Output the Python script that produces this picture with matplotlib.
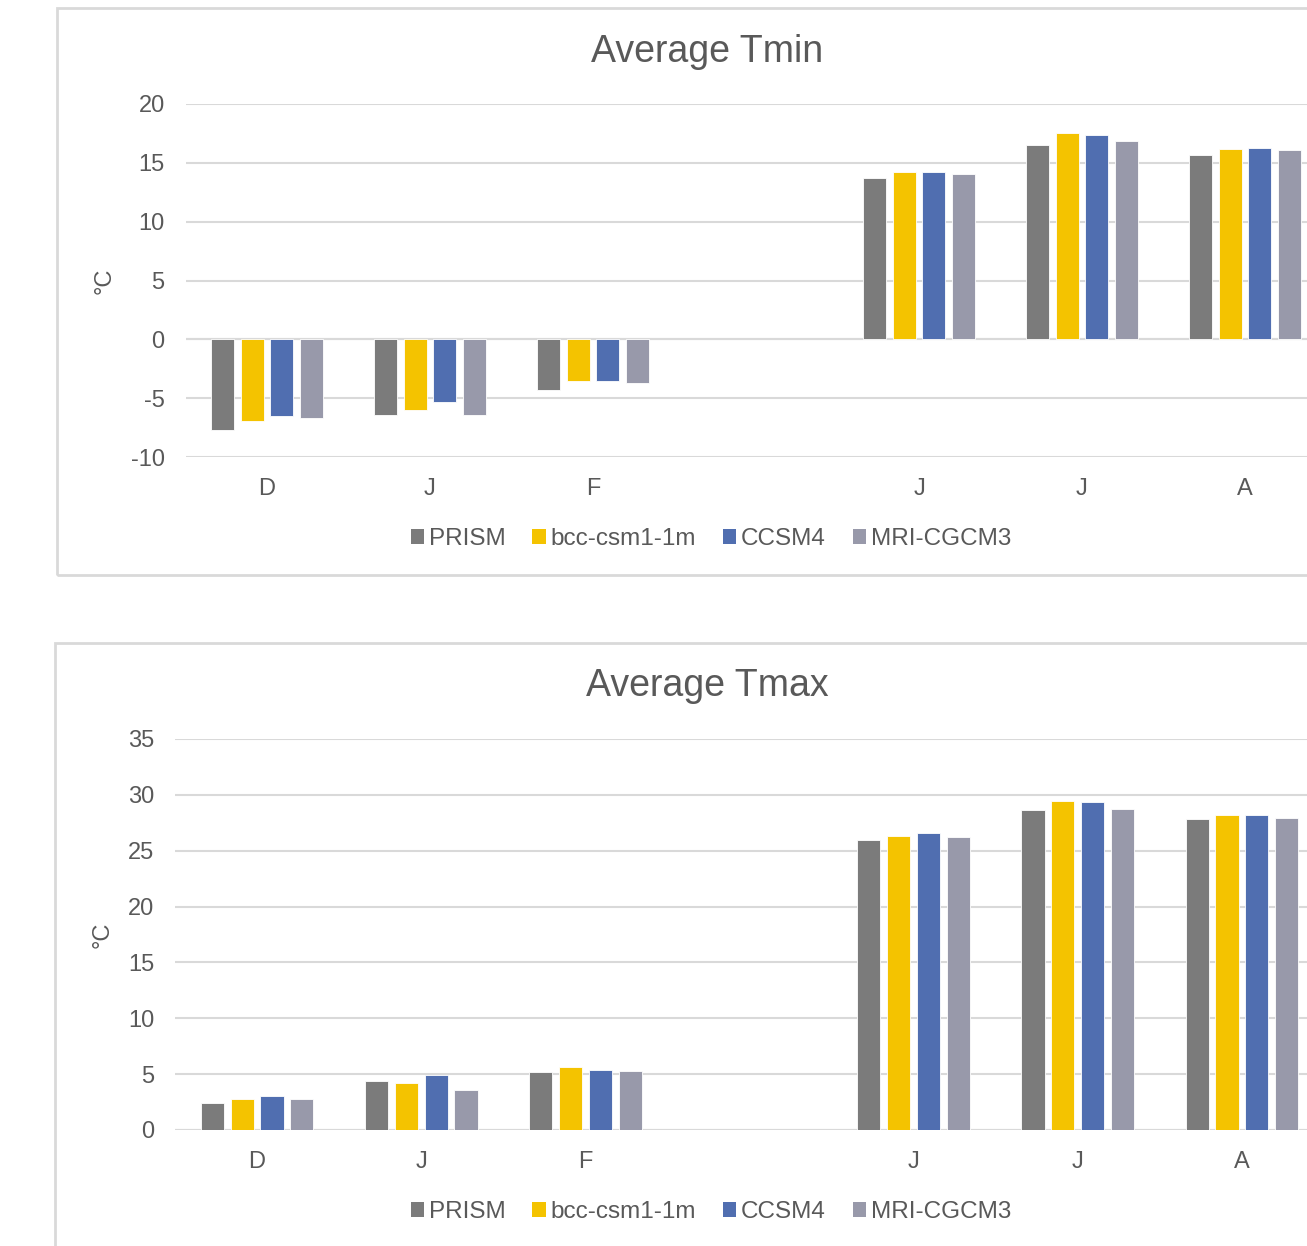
import matplotlib
matplotlib.use("Agg")
import matplotlib.pyplot as plt
from matplotlib.patches import Rectangle, Patch
import numpy as np

plt.rcParams['font.family'] = ['Liberation Sans', 'DejaVu Sans']
plt.rcParams['axes.unicode_minus'] = False

categories = ["D", "J", "F", "", "J", "J", "A"]
series = ["PRISM", "bcc-csm1-1m", "CCSM4", "MRI-CGCM3"]
colors = ["#7B7B7B", "#F4C300", "#506EB0", "#9899AA"]

# None = blank category
tmin_prism = [-7.67, -6.4, -4.3, None, 13.7, 16.5, 15.7]
tmin_bcc   = [-6.9, -6.0, -3.5, None, 14.2, 17.5, 16.2]
tmin_ccsm4 = [-6.5, -5.35, -3.5, None, 14.24, 17.37, 16.27]
tmin_mri   = [-6.7, -6.45, -3.67, None, 14.07, 16.83, 16.07]

tmax_prism = [2.38, 4.38, 5.22, None, 25.99, 28.66, 27.82]
tmax_bcc   = [2.76, 4.2, 5.6, None, 26.32, 29.46, 28.2]
tmax_ccsm4 = [3.07, 4.95, 5.34, None, 26.56, 29.35, 28.2]
tmax_mri   = [2.8, 3.57, 5.31, None, 26.23, 28.76, 27.91]

W, H = 1307, 1246
fig = plt.figure(figsize=(W / 100, H / 100), dpi=100)
TXT = "#595959"
GRID = "#D9D9D9"

def fx(px):
    return px / W

def fy(py):
    return 1 - py / H

# chart borders
fig.patches.append(Rectangle((fx(57), fy(575)), fx(1400 - 57), fy(8) - fy(575),
                             transform=fig.transFigure, fill=False, edgecolor=GRID, lw=2))
fig.patches.append(Rectangle((fx(55), fy(1300)), fx(1400 - 55), fy(643) - fy(1300),
                             transform=fig.transFigure, fill=False, edgecolor=GRID, lw=2))


def draw(ax, data, ylim, yticks, title, title_y, leg_y, ylab_x):
    n = len(categories)
    x = np.arange(n)
    step = 0.182
    bw = 0.141
    for i, (name, vals, c) in enumerate(zip(series, data, colors)):
        xs = [xi + (i - 1.5) * step for xi, v in zip(x, vals) if v is not None]
        vs = [v for v in vals if v is not None]
        ax.bar(xs, vs, width=bw, color=c, edgecolor="white", linewidth=0.6, zorder=3, label=name)
    ax.set_xlim(-0.5, n - 0.5)
    ax.set_ylim(*ylim)
    ax.set_yticks(yticks)
    ax.grid(axis="y", color=GRID, lw=1.5, zorder=0)
    ax.axhline(0, color=GRID, lw=1.5, zorder=1)
    for s in ax.spines.values():
        s.set_visible(False)
    ticks = [i for i, c in enumerate(categories) if c]
    ax.set_xticks(ticks)
    ax.set_xticklabels([categories[i] for i in ticks])
    ax.tick_params(axis="x", length=0, pad=15, labelsize=17, labelcolor=TXT)
    ax.tick_params(axis="y", length=0, pad=15, labelsize=17, labelcolor=TXT)
    axpos = ax.get_position()
    fig.text(fx(707), fy(title_y), title, ha="center", va="center", fontsize=27, color=TXT)
    fig.text(fx(ylab_x), (axpos.y0 + axpos.y1) / 2, "°C", rotation=90, ha="center", va="center",
             fontsize=17, color=TXT)
    handles = [Patch(facecolor=c, edgecolor="none") for c in colors]
    fig.legend(handles, series, loc="center", bbox_to_anchor=(fx(711), fy(leg_y)),
               ncol=4, frameon=False, fontsize=17.5, labelcolor=TXT,
               handlelength=0.55, handleheight=0.55, handletextpad=0.2, columnspacing=1.1)


ax1 = fig.add_axes([fx(185.5), fy(457), fx(1326.5 - 185.5), fy(104) - fy(457)])
draw(ax1, [tmin_prism, tmin_bcc, tmin_ccsm4, tmin_mri], (-10, 20), np.arange(-10, 21, 5),
     "Average Tmin", 52, 539, 105)

ax2 = fig.add_axes([fx(175), fy(1130), fx(1324 - 175), fy(739) - fy(1130)])
draw(ax2, [tmax_prism, tmax_bcc, tmax_ccsm4, tmax_mri], (0, 35), np.arange(0, 36, 5),
     "Average Tmax", 686, 1212, 103)

fig.savefig("out.png", dpi=100)
